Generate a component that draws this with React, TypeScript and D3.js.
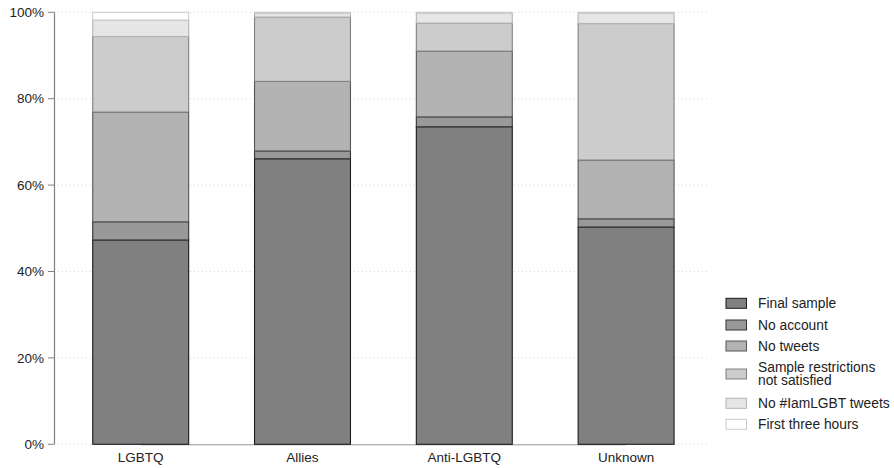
import React from "react";
import * as d3 from "d3";

const categories = ["LGBTQ", "Allies", "Anti-LGBTQ", "Unknown"];
const seriesNames = [
  "Final sample",
  "No account",
  "No tweets",
  "Sample restrictions not satisfied",
  "No #IamLGBT tweets",
  "First three hours",
];
const legendLines = [
  ["Final sample"],
  ["No account"],
  ["No tweets"],
  ["Sample restrictions", "not satisfied"],
  ["No #IamLGBT tweets"],
  ["First three hours"],
];
// percent values per series, ordered as categories
const finalSample = [47.3, 66.1, 73.5, 50.3];
const noAccount = [4.2, 1.8, 2.3, 1.9];
const noTweets = [25.4, 16.1, 15.2, 13.6];
const sampleRestrictions = [17.5, 14.9, 6.5, 31.6];
const noIamTweets = [3.8, 0.9, 2.3, 2.4];
const firstThreeHours = [1.8, 0.2, 0.2, 0.2];
const yTicks = [0, 20, 40, 60, 80, 100];

const fills = ["#808080", "#999999", "#b3b3b3", "#cccccc", "#e6e6e6", "#ffffff"];
const strokes = ["#1a1a1a", "#333333", "#555555", "#808080", "#b3b3b3", "#cccccc"];

export default function App() {
  const W = 894, H = 468;
  const font = "'Liberation Sans', Arial, Helvetica, sans-serif";
  const series = [finalSample, noAccount, noTweets, sampleRestrictions, noIamTweets, firstThreeHours];
  const x = d3.scaleBand<string>().domain(categories).range([59.8, 707]).paddingInner(0.407).paddingOuter(0.2035);
  const y = d3.scaleLinear().domain([0, 100]).range([444.3, 12.3]);

  const rows = categories.map((c, i) => {
    const o: any = { cat: c };
    seriesNames.forEach((s, j) => (o[s] = series[j][i]));
    return o;
  });
  const stacked = d3.stack<any>().keys(seriesNames)(rows);

  const legendY = [303.3, 325, 346, 374, 403.3, 424.3];

  return (
    <svg width={W} height={H} style={{ position: "absolute", left: 0, top: 0 }} fontFamily={font}>
      <rect width={W} height={H} fill="#fff" />
      {yTicks.map((t) => (
        <g key={t}>
          <line x1={58} x2={710} y1={y(t)} y2={y(t)} stroke="#d4d4d4" strokeWidth={1} strokeDasharray="1,3" />
          <line x1={48} x2={54.5} y1={y(t)} y2={y(t)} stroke="#808080" strokeWidth={1} />
          <text x={44} y={y(t)} dy="0.35em" textAnchor="end" fontSize={13.5} fill="#222">{t}%</text>
        </g>
      ))}
      <line x1={54.5} x2={54.5} y1={y(100)} y2={y(0)} stroke="#808080" strokeWidth={1.2} />
      <line
        x1={x(categories[0])! + x.bandwidth() / 2}
        x2={x(categories[categories.length - 1])! + x.bandwidth() / 2}
        y1={y(0) + 0.5}
        y2={y(0) + 0.5}
        stroke="#999"
        strokeWidth={1}
      />
      {stacked.map((layer, j) => (
        <g key={j}>
          {layer.map((d, i) => (
            <rect
              key={i}
              x={x(categories[i])!}
              width={x.bandwidth()}
              y={y(d[1])}
              height={Math.max(0, y(d[0]) - y(d[1]))}
              fill={fills[j]}
              stroke={strokes[j]}
              strokeWidth={1.1}
            />
          ))}
        </g>
      ))}
      {categories.map((c) => (
        <text key={c} x={x(c)! + x.bandwidth() / 2} y={461.5} textAnchor="middle" fontSize={13.5} fill="#222">{c}</text>
      ))}
      {legendLines.map((lines, j) => (
        <g key={j}>
          <rect x={726} y={legendY[j] - 5} width={20.5} height={10} fill={fills[j]} stroke={strokes[j]} strokeWidth={1} />
          <text
            x={758}
            y={legendY[j] - ((lines.length - 1) / 2) * 13}
            dy="0.35em"
            fontSize={13.8}
            fill="#222"
          >
            {lines.map((ln, k) => (
              <tspan key={k} x={758} dy={k === 0 ? "0.35em" : 13}>{ln}</tspan>
            ))}
          </text>
        </g>
      ))}
    </svg>
  );
}
